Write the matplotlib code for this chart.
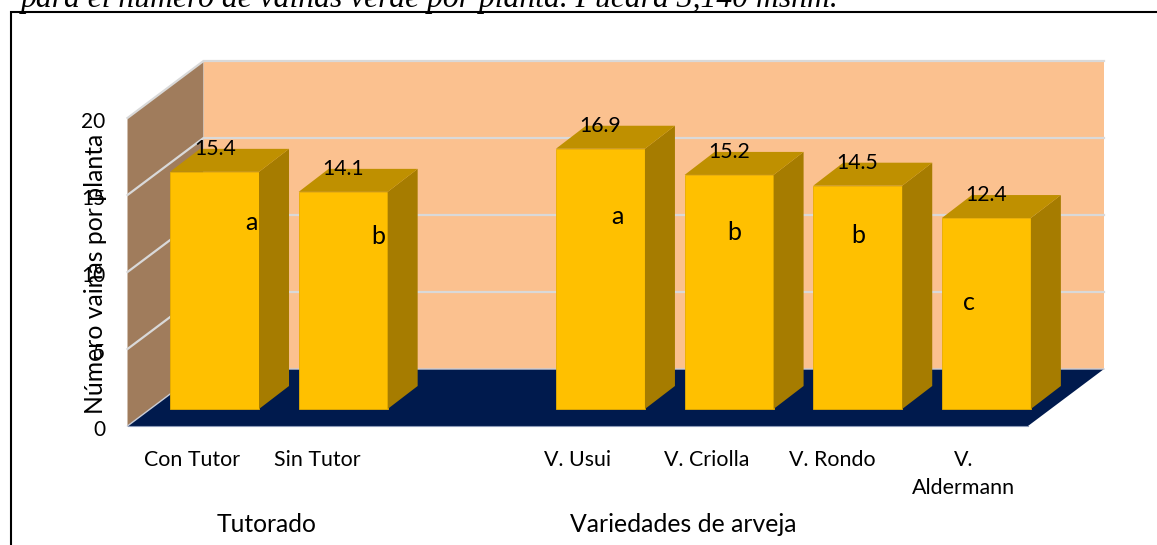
import matplotlib
matplotlib.use("Agg")
import matplotlib.pyplot as plt
from matplotlib.patches import Polygon, Rectangle
from matplotlib.transforms import ScaledTranslation

categories = ["Con Tutor", "Sin Tutor", "V. Usui", "V. Criolla", "V. Rondo", "V.\nAldermann"]
slots = [0, 1, 3, 4, 5, 6]
values = [15.4, 14.1, 16.9, 15.2, 14.5, 12.4]
letters = ["a", "b", "a", "b", "b", "c"]
yticks = [0, 5, 10, 15, 20]

W, H = 1157, 545
plt.rcParams["font.family"] = ["Lato", "DejaVu Sans"]
fig = plt.figure(figsize=(W / 100, H / 100), dpi=100, facecolor="white")
L, R, T, B = 127.5, 1028.0, 118.0, 426.0
ax = fig.add_axes([L / W, 1 - B / H, (R - L) / W, (B - T) / H])
ax.set_xlim(0, 7)
ax.set_ylim(0, 20)
ax.set_facecolor("none")
for s in ax.spines.values():
    s.set_visible(False)

sx = (R - L) / 7      # px per slot
sy = (B - T) / 20     # px per unit
DX, DY = 76 / sx, 57 / sy   # wall depth in data units
BW = 89 / sx
BX, BY = 30 / sx, 23 / sy   # bar depth


def poly(pts, fc, z, ec="none", lw=0):
    ax.add_patch(Polygon(pts, closed=True, facecolor=fc, edgecolor=ec, linewidth=lw, zorder=z, clip_on=False))


# walls and floor
poly([(DX, DY), (7 + DX, DY), (7 + DX, 20 + DY), (DX, 20 + DY)], "#FBC18F", 1)
poly([(0, 0), (DX, DY), (DX, 20 + DY), (0, 20)], "#A07C5C", 1)
poly([(0, 0), (7, 0), (7 + DX, DY), (DX, DY)], "#001A4D", 1.5)
for v in yticks[1:]:
    ax.plot([0, DX, 7 + DX], [v, v + DY, v + DY], color="#D9D9D9", lw=1.6, zorder=1.2,
            clip_on=False, solid_joinstyle="miter")
ax.plot([0, DX, 7 + DX], [0, DY, DY], color="#C9CCD6", lw=1.0, zorder=1.6, clip_on=False)
ax.plot([0, 7], [0, 0], color="#8C9AB8", lw=0.8, zorder=1.6, clip_on=False)

# bars
label_dx = [-14.5, -15, -15, -15, -16, -15]
letter_x = [251, 378, 617, 734, 858, 969]
letter_y = [222, 237, 217, 233, 235, 303]
for i, (slot, val) in enumerate(zip(slots, values)):
    x0 = slot + 0.3305
    y0 = 17 / sy
    h = val
    ax.add_patch(Rectangle((x0, y0), BW, h, facecolor="#FFC000", edgecolor="#E8AE00", lw=0.6, zorder=3, clip_on=False))
    x1 = x0 + BW
    poly([(x1, y0), (x1 + BX, y0 + BY), (x1 + BX, y0 + h + BY), (x1, y0 + h)], "#A67C00", 3)
    poly([(x0, y0 + h), (x1, y0 + h), (x1 + BX, y0 + h + BY), (x0 + BX, y0 + h + BY)], "#BF9000", 3)
    ax.annotate(f"{val:.1f}", (x0 + BW / 2 + BX / 2, y0 + h + BY), xytext=(label_dx[i], 0),
                textcoords="offset pixels", ha="center", va="center", fontsize=15.3, color="black",
                zorder=5, annotation_clip=False)
    fig.text(letter_x[i] / W, 1 - letter_y[i] / H, letters[i], ha="center", va="center",
             fontsize=18, color="black", zorder=6)

# axes ticks
ax.set_yticks(yticks)
ax.set_xticks([s + 0.5 for s in slots])
ax.set_xticklabels(categories, fontsize=15.4, linespacing=1.5)
ax.tick_params(axis="both", length=0, labelsize=15)
ax.tick_params(axis="x", pad=17)
ax.tick_params(axis="y", pad=16)
tick_nudge = [0, -3, 0, 0, -3, 0]
for t, n in zip(ax.get_xticklabels(), tick_nudge):
    t.set_va("top")
    t.set_fontsize(15.4)
    t.set_transform(t.get_transform() + ScaledTranslation(n / 100, 0, fig.dpi_scale_trans))
shift = ScaledTranslation(0, -2 / 100, fig.dpi_scale_trans)
for t in ax.get_yticklabels():
    t.set_transform(t.get_transform() + shift)

fig.text(96 / W, 1 - 273.5 / H, "Número vainas por planta", rotation=90, ha="center", va="center", fontsize=17.8)
fig.text(267 / W, 1 - 524 / H, "Tutorado", ha="center", va="center", fontsize=17.7)
fig.text(683.5 / W, 1 - 524 / H, "Variedades de arveja", ha="center", va="center", fontsize=17.8)

# page fragment above the chart
fig.text(21 / W, 1 - 7.5 / H, "para el número de vainas verde por planta. Pucará 3,140 msnm.",
         family="Liberation Serif", style="italic", fontsize=22.8, ha="left", va="baseline")
fig.add_artist(plt.Line2D([11 / W, 11 / W, 1], [0, 1 - 11.5 / H, 1 - 11.5 / H], color="black", lw=1.5,
                          solid_joinstyle="miter"))
fig.savefig("out.png", dpi=100)
